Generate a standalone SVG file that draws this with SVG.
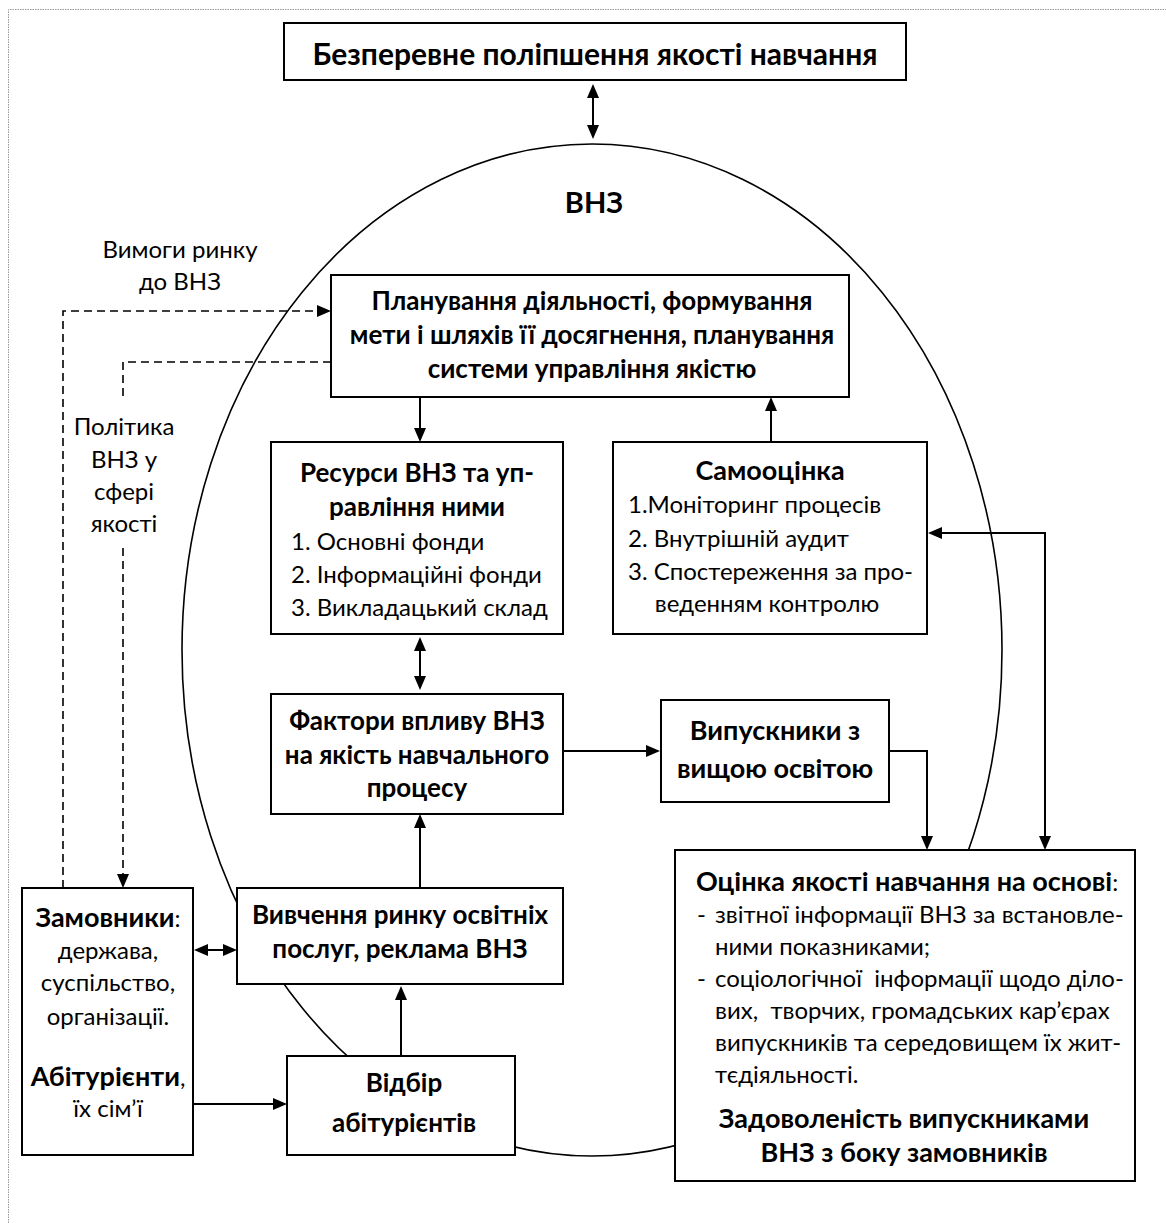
<svg xmlns="http://www.w3.org/2000/svg" width="1166" height="1223" viewBox="0 0 1166 1223">
<style>
text{font-family:Lato,"Open Sans","Noto Sans",sans-serif;fill:#000}
.b{font-weight:bold;font-size:26px}
.b27{font-weight:bold;font-size:27px}
.r{font-size:24px}
.c{text-anchor:middle}
.box{fill:#fff;stroke:#000;stroke-width:2}
.ln{fill:none;stroke:#000;stroke-width:2}
.ds{fill:none;stroke:#000;stroke-width:1.6;stroke-dasharray:8 5}
</style>
<defs>
<marker id="ah" markerUnits="userSpaceOnUse" markerWidth="14" markerHeight="12" refX="6" refY="6" orient="auto-start-reverse"><path d="M0,0 L14,6 L0,12 z" fill="#000"/></marker>
</defs>
<rect width="1166" height="1223" fill="#fff"/>
<path d="M8.5,1223 V9.5 H1166" fill="none" stroke="#9a9a9a" stroke-width="1" stroke-dasharray="1.5 1"/>
<g id="vnz">
<ellipse cx="592" cy="650" rx="410" ry="506" fill="none" stroke="#000" stroke-width="1.6"/>
<text class="b c" x="594" y="213" style="font-size:29px">ВНЗ</text>
</g>
<g id="title">
<rect class="box" x="284" y="23" width="622" height="57"/>
<text class="b c" x="595" y="65" style="font-size:30px">Безперевне поліпшення якості навчання</text>
</g>
<g id="label-vymohy">
<text class="r c" x="180" y="258">Вимоги ринку</text>
<text class="r c" x="180" y="290">до ВНЗ</text>
</g>
<g id="label-polityka">
<text class="r c" x="124" y="435">Політика</text>
<text class="r c" x="124" y="468">ВНЗ у</text>
<text class="r c" x="124" y="500">сфері</text>
<text class="r c" x="124" y="532">якості</text>
</g>
<g id="planning">
<rect class="box" x="331" y="275" width="518" height="122"/>
<text class="b c" x="592" y="310">Планування діяльності, формування</text>
<text class="b c" x="592" y="344">мети і шляхів її досягнення, планування</text>
<text class="b c" x="592" y="378">системи управління якістю</text>
</g>
<g id="resources">
<rect class="box" x="271" y="442" width="292" height="192"/>
<text class="b c" x="417" y="482">Ресурси ВНЗ та уп-</text>
<text class="b c" x="417" y="516">равління ними</text>
<text class="r" x="291" y="550">1. Основні фонди</text>
<text class="r" x="291" y="583">2. Інформаційні фонди</text>
<text class="r" x="291" y="616">3. Викладацький склад</text>
</g>
<g id="selfassessment">
<rect class="box" x="613" y="442" width="314" height="192"/>
<text class="b27 c" x="770" y="480">Самооцінка</text>
<text class="r" x="628" y="513">1.Моніторинг процесів</text>
<text class="r" x="628" y="547">2. Внутрішній аудит</text>
<text class="r" x="628" y="580">3. Спостереження за про-</text>
<text class="r c" x="767" y="612">веденням контролю</text>
</g>
<g id="factors">
<rect class="box" x="271" y="694" width="292" height="120"/>
<text class="b c" x="417" y="730">Фактори впливу ВНЗ</text>
<text class="b c" x="417" y="764">на якість навчального</text>
<text class="b c" x="417" y="797">процесу</text>
</g>
<g id="graduates">
<rect class="box" x="661" y="700" width="228" height="102"/>
<text class="b27 c" x="775" y="740">Випускники з</text>
<text class="b27 c" x="775" y="778">вищою освітою</text>
</g>
<g id="market">
<rect class="box" x="237" y="888" width="326" height="96"/>
<text class="b c" x="400" y="924">Вивчення ринку освітніх</text>
<text class="b c" x="400" y="958">послуг, реклама ВНЗ</text>
</g>
<g id="customers">
<rect class="box" x="22" y="888" width="171" height="267"/>
<text class="c" x="108" y="927"><tspan class="b27">Замовники</tspan><tspan class="r">:</tspan></text>
<text class="r c" x="108" y="959">держава,</text>
<text class="r c" x="108" y="991">суспільство,</text>
<text class="r c" x="108" y="1025">організації.</text>
<text class="c" x="108" y="1086"><tspan class="b27">Абітурієнти</tspan><tspan class="r">,</tspan></text>
<text class="r c" x="108" y="1117">їх сім’ї</text>
</g>
<g id="selection">
<rect class="box" x="287" y="1056" width="228" height="99"/>
<text class="b c" x="404" y="1092">Відбір</text>
<text class="b c" x="404" y="1132">абітурієнтів</text>
</g>
<g id="evaluation">
<rect class="box" x="675" y="850" width="460" height="331"/>
<text x="696" y="891"><tspan class="b27">Оцінка якості навчання на основі</tspan><tspan class="r">:</tspan></text>
<text class="r" x="697" y="923">-</text>
<text class="r" x="715" y="923">звітної інформації ВНЗ за встановле-</text>
<text class="r" x="715" y="955">ними показниками;</text>
<text class="r" x="697" y="987">-</text>
<text class="r" x="715" y="987" xml:space="preserve">соціологічної  інформації щодо діло-</text>
<text class="r" x="715" y="1019" xml:space="preserve">вих,  творчих, громадських кар’єрах</text>
<text class="r" x="715" y="1051">випускників та середовищем їх жит-</text>
<text class="r" x="715" y="1083">тєдіяльності.</text>
<text class="b27 c" x="904" y="1128">Задоволеність випускниками</text>
<text class="b27 c" x="904" y="1162">ВНЗ з боку замовників</text>
</g>
<g id="connectors">
<line class="ln" x1="593" y1="92" x2="593" y2="131" marker-start="url(#ah)" marker-end="url(#ah)"/>
<line class="ln" x1="420" y1="397" x2="420" y2="434" marker-end="url(#ah)"/>
<line class="ln" x1="771" y1="442" x2="771" y2="405" marker-end="url(#ah)"/>
<line class="ln" x1="420" y1="645" x2="420" y2="682" marker-start="url(#ah)" marker-end="url(#ah)"/>
<line class="ln" x1="563" y1="751" x2="652" y2="751" marker-end="url(#ah)"/>
<path class="ln" d="M889,751 H927 V842" marker-end="url(#ah)"/>
<path class="ln" d="M936,533 H1045 V842" marker-start="url(#ah)" marker-end="url(#ah)"/>
<line class="ln" x1="420" y1="888" x2="420" y2="822" marker-end="url(#ah)"/>
<line class="ln" x1="202" y1="950" x2="229" y2="950" marker-start="url(#ah)" marker-end="url(#ah)"/>
<line class="ln" x1="193" y1="1104" x2="279" y2="1104" marker-end="url(#ah)"/>
<line class="ln" x1="401" y1="1056" x2="401" y2="994" marker-end="url(#ah)"/>
<path class="ds" d="M63,888 V311 H323" marker-end="url(#ah)"/>
<path class="ds" d="M331,362 H123 V398"/>
<path class="ds" d="M123,548 V880" marker-end="url(#ah)"/>
</g>
</svg>
